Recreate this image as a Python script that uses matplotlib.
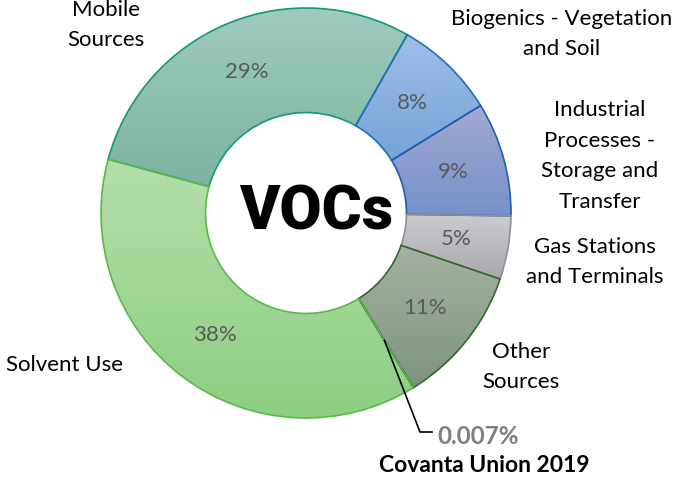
import numpy as np
import matplotlib
matplotlib.use("Agg")
import matplotlib.pyplot as plt

# VOC emission shares (percent)
categories = ["Mobile\nSources", "Biogenics - Vegetation\nand Soil",
              "Industrial\nProcesses -\nStorage and\nTransfer",
              "Gas Stations\nand Terminals", "Other\nSources",
              "Covanta Union 2019", "Solvent Use"]
shares = [29, 8, 9, 5, 11, 0.007, 38]
pct_labels = ["29%", "8%", "9%", "5%", "11%", "0.007%", "38%"]

# vertical gradient (top, bottom) and edge colour per slice
grad_top = ["#9ECBBE", "#A0BEE8", "#A3A9D2", "#CBCBCF", "#A6B2A3", "#A6B2A3", "#B4DEAA"]
grad_bot = ["#7DB3A0", "#76A3D9", "#7690CA", "#A8A8AD", "#7D937E", "#7D937E", "#8CCF80"]
edges = ["#12987A", "#1F70B8", "#1F5FAC", "#8E8E94", "#2F6A2C", "#2F6A2C", "#5BB84B"]

W, H = 686, 487
fig = plt.figure(figsize=(W / 100, H / 100), dpi=100)
ax = fig.add_axes([0, 0, 1, 1])

cx, cy, R = 306, H - 213, 205
ring = 0.51

wedges, _ = ax.pie(shares, startangle=164.8, counterclock=False,
                   center=(cx, cy), radius=R, frame=True,
                   wedgeprops=dict(width=R * ring, linewidth=1.2))

for i, w in enumerate(wedges):
    w.set_facecolor("none")
    w.set_edgecolor(edges[i])
    w.set_zorder(3)
    ext = w.get_path().get_extents()
    t = np.array(matplotlib.colors.to_rgb(grad_top[i]))
    b = np.array(matplotlib.colors.to_rgb(grad_bot[i]))
    f = np.linspace(0, 1, 64)[:, None]
    img = (t * (1 - f) + b * f)[:, None, :]
    im = ax.imshow(img, extent=[ext.x0, ext.x1, ext.y0, ext.y1], origin="upper",
                   aspect="auto", interpolation="bilinear", zorder=2)
    im.set_clip_path(w)

ax.set_xlim(0, W)
ax.set_ylim(0, H)
ax.set_aspect("equal")
ax.axis("off")

# percentage labels inside the ring
for i, w in enumerate(wedges):
    if i == 5:
        continue
    ang = np.deg2rad((w.theta1 + w.theta2) / 2)
    rr = R * 0.745
    ax.text(cx + rr * np.cos(ang), cy + rr * np.sin(ang), pct_labels[i],
            ha="center", va="center", fontsize=16, color="#595959",
            family="Lato", zorder=5)

# category labels outside
lab_pos = [(106, 25), (562, 34), (600, 156), (595, 262), (521, 367), None, (64, 365)]
for i, p in enumerate(lab_pos):
    if p is None:
        continue
    ax.text(p[0], H - p[1], categories[i], ha="center", va="center",
            fontsize=16, color="#000000", family="Lato", linespacing=1.65,
            zorder=5)

# leader line to the tiny Covanta slice
w = wedges[5]
ang = np.deg2rad((w.theta1 + w.theta2) / 2)
rr = R * 0.73
x0, y0 = cx + rr * np.cos(ang), cy + rr * np.sin(ang)
ax.plot([x0, 420, 432], [y0, H - 432, H - 432], color="black", lw=1.2, zorder=6)
ax.text(437, H - 436, pct_labels[5], ha="left", va="center", fontsize=17.5,
        fontweight="bold", color="#7F7F7F", family="Lato", zorder=5)
ax.text(484, H - 465, categories[5], ha="center", va="center", fontsize=16.5,
        fontweight="bold", color="#000000", family="Lato", zorder=5)

# centre title
ax.text(316, H - 213, "VOCs", ha="center", va="center", fontsize=44,
        fontweight="black", family=["Roboto", "DejaVu Sans"],
        color="black", zorder=5)

fig.savefig("out.png", dpi=100, facecolor="white")
